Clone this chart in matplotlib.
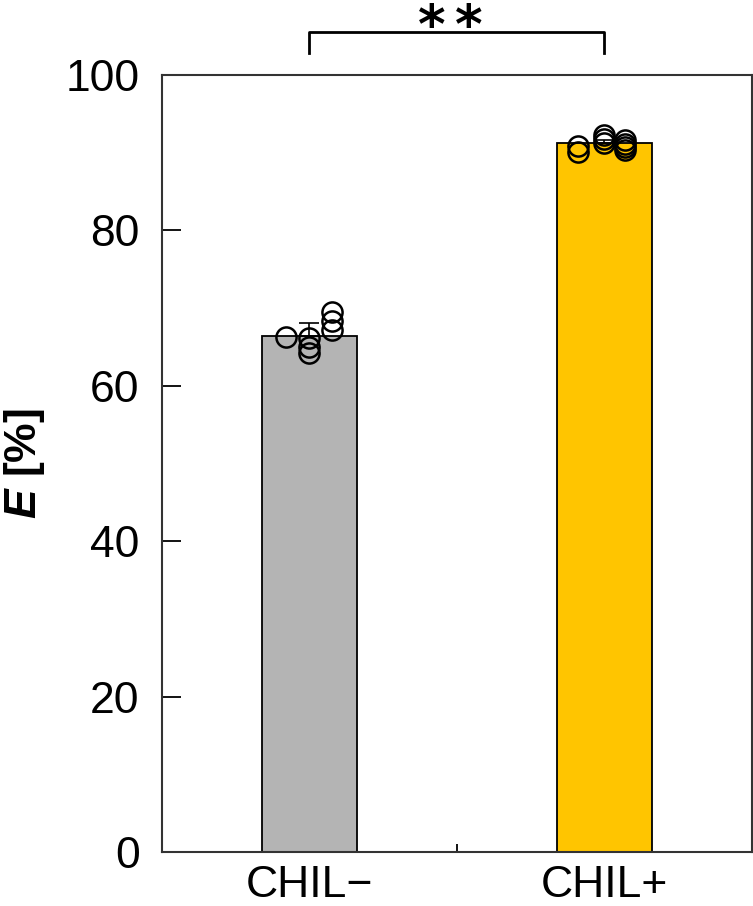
import matplotlib
matplotlib.use("Agg")
import matplotlib.pyplot as plt
import numpy as np

categories = ["CHIL\u2212", "CHIL+"]
bar_values = [66.4, 91.2]
err_upper = [1.7, 0.5]
bar_colors = ["#b4b4b4", "#ffc500"]

# individual points, grouped by horizontal jitter position
chil_minus_left = [66.3]
chil_minus_mid = [66.1, 65.0, 64.2]
chil_minus_right = [69.5, 68.3, 67.2]
chil_plus_left = [90.9, 90.1]
chil_plus_mid = [92.3, 91.8, 91.2]
chil_plus_right = [91.6, 91.1, 90.7, 90.3]

yticks = [0, 20, 40, 60, 80, 100]

plt.rcParams['font.family'] = ['Liberation Sans', 'DejaVu Sans']
plt.rcParams['mathtext.fontset'] = 'custom'
plt.rcParams['mathtext.it'] = 'Liberation Sans:italic:bold'
plt.rcParams['mathtext.rm'] = 'Liberation Sans:bold'

fig = plt.figure(figsize=(7.53, 9.06), dpi=100)
ax = fig.add_axes([0.215, 0.0596, 0.7835, 0.8576])

x = np.arange(len(categories))
ax.bar(x, bar_values, width=0.32, color=bar_colors, edgecolor="black",
       linewidth=1.3, zorder=2)
ax.errorbar(x, bar_values, yerr=[[0, 0], err_upper], fmt="none",
            ecolor="black", elinewidth=1.2, capsize=7, capthick=1.2, zorder=3)

groups = [
    (0, -0.078, chil_minus_left), (0, 0.0, chil_minus_mid), (0, 0.078, chil_minus_right),
    (1, -0.088, chil_plus_left), (1, 0.0, chil_plus_mid), (1, 0.07, chil_plus_right),
]
for xi, dx, vals in groups:
    ax.plot([xi + dx] * len(vals), vals, linestyle="none", marker="o", ms=14.5,
            mfc="none", mec="black", mew=1.8, zorder=4)

ax.set_xlim(-0.5, 1.5)
ax.set_ylim(0, 100)
ax.set_xticks(x)
ax.set_xticklabels(categories, fontsize=32)
ax.set_xticks([0.5], minor=True)
ax.set_yticks(yticks)
ax.set_yticklabels([str(t) for t in yticks], fontsize=32)
ax.tick_params(axis="x", which="major", length=0, pad=9)
ax.tick_params(axis="x", which="minor", direction="in", length=6, width=1.3)
ax.tick_params(axis="y", direction="in", length=14, width=1.3, pad=16)

for s in ax.spines.values():
    s.set_linewidth(1.5)
    s.set_color("#333333")

ax.set_ylabel(r"$E$ [%]", fontsize=32, fontweight="bold", labelpad=13)

# significance bracket
ax.plot([0, 0, 1, 1], [102.8, 105.5, 105.5, 102.8], color="black", lw=2,
        clip_on=False)
for sx in [0.416, 0.54]:
    ax.text(sx, 109.45, "*", fontsize=38, fontweight="bold", ha="center",
            va="top", family="DejaVu Sans", clip_on=False)

fig.savefig("out.png", dpi=100)
